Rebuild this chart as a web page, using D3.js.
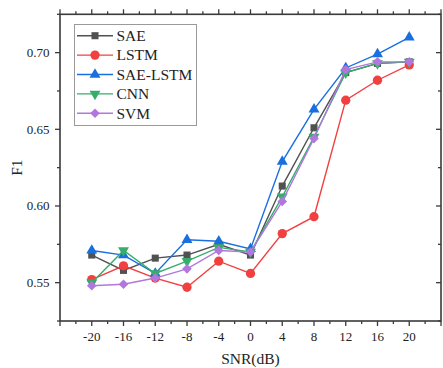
<!DOCTYPE html>
<html>
<head>
<meta charset="utf-8">
<script src="https://cdn.jsdelivr.net/npm/d3@7"></script>
<style>
  body { margin: 0; background: #fff; }
  svg { display: block; font-family: "Liberation Serif", "Times New Roman", serif; }
</style>
</head>
<body>
<script>
// data
const snr = [-20, -16, -12, -8, -4, 0, 4, 8, 12, 16, 20];
const sae     = [0.568, 0.558, 0.566, 0.568, 0.575, 0.568, 0.613, 0.651, 0.687, 0.693, 0.694];
const lstm    = [0.552, 0.561, 0.553, 0.547, 0.564, 0.556, 0.582, 0.593, 0.669, 0.682, 0.692];
const saeLstm = [0.571, 0.568, 0.556, 0.578, 0.577, 0.572, 0.629, 0.663, 0.690, 0.699, 0.710];
const cnn     = [0.550, 0.571, 0.556, 0.564, 0.573, 0.570, 0.606, 0.645, 0.687, 0.693, 0.694];
const svm     = [0.548, 0.549, 0.553, 0.559, 0.571, 0.570, 0.603, 0.644, 0.689, 0.694, 0.694];
const seriesNames = ["SAE", "LSTM", "SAE-LSTM", "CNN", "SVM"];
const yTickLabels = ["0.55", "0.60", "0.65", "0.70"];

const series = [
  {name: seriesNames[0], values: sae,     color: "#515151", shape: "square"},
  {name: seriesNames[1], values: lstm,    color: "#f14040", shape: "circle"},
  {name: seriesNames[2], values: saeLstm, color: "#1a6fdf", shape: "triUp"},
  {name: seriesNames[3], values: cnn,     color: "#37ad6b", shape: "triDown"},
  {name: seriesNames[4], values: svm,     color: "#b177de", shape: "diamond"}
];

const W = 443, H = 368;
const pLeft = 60, pRight = 441, pTop = 14.3, pBottom = 321;
const axisColor = "#3a3a3a";

const svg = d3.select("body").append("svg")
  .attr("width", W).attr("height", H);

const x = d3.scaleLinear().domain([-24, 24]).range([pLeft, pRight]);
const y = d3.scaleLinear().domain([0.525, 0.725]).range([pBottom, pTop]);

// ticks
const xTicks = d3.range(-24, 24.001, 2);
const yTicks = d3.range(0, 9).map(i => 0.525 + i * 0.025);
const isMajorX = v => Math.abs(v % 4) < 1e-6;
const isMajorY = (v, i) => i % 2 === 1;

const g = svg.append("g");

// bottom ticks (outward)
g.selectAll(".xb").data(xTicks).enter().append("line")
  .attr("x1", d => x(d)).attr("x2", d => x(d))
  .attr("y1", pBottom).attr("y2", d => pBottom + (isMajorX(d) ? 5 : 3))
  .attr("stroke", axisColor).attr("stroke-width", 1.3);
// top ticks (outward)
g.selectAll(".xt").data(xTicks).enter().append("line")
  .attr("x1", d => x(d)).attr("x2", d => x(d))
  .attr("y1", pTop).attr("y2", d => pTop - (isMajorX(d) ? 5 : 3))
  .attr("stroke", axisColor).attr("stroke-width", 1.3);
// left ticks (outward)
g.selectAll(".yl").data(yTicks).enter().append("line")
  .attr("y1", d => y(d)).attr("y2", d => y(d))
  .attr("x1", pLeft).attr("x2", (d, i) => pLeft - (isMajorY(d, i) ? 5 : 3))
  .attr("stroke", axisColor).attr("stroke-width", 1.3);
// right ticks (inward)
g.selectAll(".yr").data(yTicks).enter().append("line")
  .attr("y1", d => y(d)).attr("y2", d => y(d))
  .attr("x1", pRight).attr("x2", (d, i) => pRight - (isMajorY(d, i) ? 5 : 3))
  .attr("stroke", axisColor).attr("stroke-width", 1.3);

// frame
g.append("rect")
  .attr("x", pLeft).attr("y", pTop)
  .attr("width", pRight - pLeft).attr("height", pBottom - pTop)
  .attr("fill", "none").attr("stroke", axisColor).attr("stroke-width", 1.6);

// tick labels
g.selectAll(".xlab").data(snr).enter().append("text")
  .attr("x", d => x(d)).attr("y", 341)
  .attr("text-anchor", "middle").attr("font-size", 13).attr("fill", "#222")
  .text(d => d);
g.selectAll(".ylab").data(yTickLabels).enter().append("text")
  .attr("x", 49.5).attr("y", d => y(+d) + 4.5)
  .attr("text-anchor", "end").attr("font-size", 13).attr("fill", "#222")
  .text(d => d);

// axis titles
svg.append("text")
  .attr("x", (pLeft + pRight) / 2).attr("y", 364)
  .attr("text-anchor", "middle").attr("font-size", 15.5).attr("fill", "#222")
  .text("SNR(dB)");
svg.append("text")
  .attr("transform", `translate(21.7, ${(pTop + pBottom) / 2}) rotate(-90)`)
  .attr("text-anchor", "middle").attr("font-size", 15.5).attr("fill", "#222")
  .text("F1");

// marker generator
function symbolPath(shape) {
  if (shape === "square") return d3.symbol(d3.symbolSquare, 50)();
  if (shape === "circle") return d3.symbol(d3.symbolCircle, 68)();
  if (shape === "triUp" || shape === "triDown") return d3.symbol(d3.symbolTriangle, 52)();
  if (shape === "diamond") return d3.symbol(d3.symbolSquare, 46)();
}
function symbolRotate(shape) {
  if (shape === "triDown") return 180;
  if (shape === "diamond") return 45;
  return 0;
}

const line = d3.line()
  .x((d, i) => x(snr[i]))
  .y(d => y(d));

series.forEach(s => {
  const sg = svg.append("g");
  sg.append("path")
    .datum(s.values)
    .attr("d", line)
    .attr("fill", "none")
    .attr("stroke", s.color)
    .attr("stroke-width", 1.4);
  sg.selectAll("path.m").data(s.values).enter().append("path")
    .attr("class", "m")
    .attr("d", symbolPath(s.shape))
    .attr("transform", (d, i) => `translate(${x(snr[i])}, ${y(d)}) rotate(${symbolRotate(s.shape)})`)
    .attr("fill", s.color);
});

// legend
const legend = svg.append("g");
legend.append("rect")
  .attr("x", 74.5).attr("y", 24.5)
  .attr("width", 122).attr("height", 101)
  .attr("fill", "#fff").attr("stroke", "#9a9a9a").attr("stroke-width", 1);
series.forEach((s, i) => {
  const ly = 35.7 + i * 19.4;
  legend.append("line")
    .attr("x1", 77).attr("x2", 113).attr("y1", ly).attr("y2", ly)
    .attr("stroke", s.color).attr("stroke-width", 1.4);
  legend.append("path")
    .attr("d", symbolPath(s.shape))
    .attr("transform", `translate(95, ${ly}) rotate(${symbolRotate(s.shape)})`)
    .attr("fill", s.color);
  legend.append("text")
    .attr("x", 116.5).attr("y", ly + 5.3)
    .attr("font-size", 15.5).attr("fill", "#222")
    .text(s.name);
});
</script>
</body>
</html>
